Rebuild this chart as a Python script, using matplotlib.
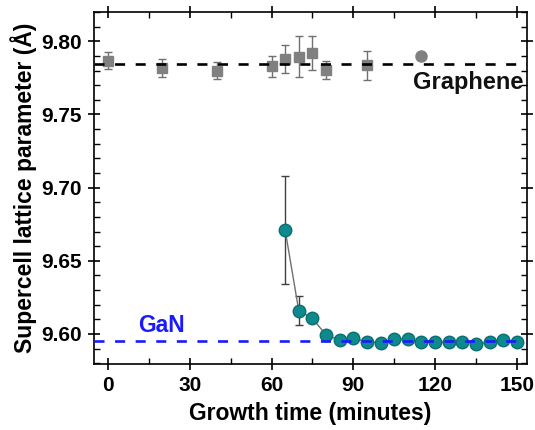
import matplotlib
matplotlib.use("Agg")
import matplotlib.pyplot as plt
from matplotlib.ticker import MultipleLocator

plt.rcParams['font.family'] = ['Liberation Sans', 'DejaVu Sans']
plt.rcParams['font.weight'] = 'bold'

# Graphene (gray squares)
g_time = [0, 20, 40, 60, 65, 70, 75, 80, 95]
g_val = [9.7868, 9.7818, 9.7800, 9.7829, 9.7880, 9.7893, 9.7920, 9.7802, 9.7836]
g_err = [0.0057, 0.0060, 0.0058, 0.0070, 0.0094, 0.0140, 0.0114, 0.0060, 0.0100]
g2_time = [115]
g2_val = [9.7900]
g2_err = [0.0020]

# GaN (teal circles)
n_time = [65, 70, 75, 80, 85, 90, 95, 100, 105, 110, 115, 120, 125, 130, 135, 140, 145, 150]
n_val = [9.6711, 9.6159, 9.6107, 9.5993, 9.5959, 9.5970, 9.5948, 9.5941, 9.5963,
         9.5968, 9.5943, 9.5945, 9.5943, 9.5948, 9.5932, 9.5945, 9.5959, 9.5943]
n_err = [0.0370, 0.0100, 0.0015, 0.0010, 0.0010, 0.0010, 0.0010, 0.0010, 0.0010,
         0.0010, 0.0010, 0.0010, 0.0010, 0.0010, 0.0015, 0.0010, 0.0010, 0.0010]

graphene_ref = 9.7847
gan_ref = 9.5953

fig = plt.figure(figsize=(5.35, 4.30), dpi=100)
ax = fig.add_axes([94/535, 1-364/430, (527-94)/535, (364-12)/430])

ax.errorbar(g_time, g_val, yerr=g_err, fmt='s', color='#808080', ms=7,
            ecolor='#707070', elinewidth=1, capsize=3, capthick=1, zorder=3)
ax.errorbar(g2_time, g2_val, yerr=g2_err, fmt='o', color='#808080', ms=8,
            ecolor='#707070', elinewidth=1, capsize=3, capthick=1, zorder=3)
ax.errorbar(n_time, n_val, yerr=n_err, fmt='-o', color='#707070', lw=1,
            mfc='#0f8a8c', mec='#0b6e70', ms=9, ecolor='#404040',
            elinewidth=1, capsize=3, capthick=1, zorder=4)

ax.axhline(graphene_ref, color='black', lw=1.9, ls=(0, (3.8, 4.0)), zorder=5)
ax.axhline(gan_ref, color='#1a1aff', lw=1.9, ls=(0, (3.8, 4.0)), zorder=5)

ax.text(152.4, 9.7717, 'Graphene', ha='right', va='center', fontsize=17,
        fontweight='bold', color='#111111')
ax.text(11, 9.6057, 'GaN', ha='left', va='center', fontsize=16.5,
        fontweight='bold', color='#1a1aff')

ax.set_xlim(-5.1, 153.7)
ax.set_ylim(9.5795, 9.820)
ax.xaxis.set_major_locator(MultipleLocator(30))
ax.xaxis.set_minor_locator(MultipleLocator(15))
ax.yaxis.set_major_locator(MultipleLocator(0.05))
ax.yaxis.set_minor_locator(MultipleLocator(0.01))
ax.yaxis.set_major_formatter(matplotlib.ticker.FormatStrFormatter('%.2f'))

ax.tick_params(which='major', direction='inout', length=9, width=1.2,
               top=True, right=True, labelsize=15, pad=4)
ax.tick_params(which='minor', direction='in', length=4, width=1,
               top=True, right=True)
for lab in ax.get_xticklabels() + ax.get_yticklabels():
    lab.set_fontweight('bold')
for s in ax.spines.values():
    s.set_linewidth(1.2)

ax.set_xlabel('Growth time (minutes)', fontsize=16.5, fontweight='bold', labelpad=5)
ax.set_ylabel('Supercell lattice parameter (Å)', fontsize=16.5, fontweight='bold', labelpad=3)

fig.savefig('out.png', dpi=100)
